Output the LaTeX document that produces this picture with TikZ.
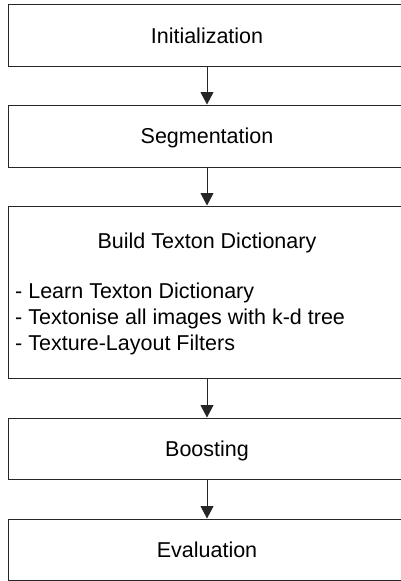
\documentclass[tikz,border=0pt]{standalone}
\usepackage{fontspec}
\setmainfont{Liberation Sans}
\usetikzlibrary{arrows.meta}
\begin{document}
\begin{tikzpicture}[x=1pt,y=-1pt,
  every node/.style={font=\fontsize{21.5}{26}\selectfont, text=black},
  stage/.style={draw=black!85, line width=1pt, rectangle, inner sep=0pt,
    minimum width=397pt, text height=15.5pt, text depth=0pt},
  flow/.style={draw=black!85, line width=1pt,
    -{Triangle[length=12.5pt,width=13pt]}}
]
\useasboundingbox (0,0) rectangle (401,581);
\clip (0,0) rectangle (401,581);

% stages of the pipeline
\node[stage, minimum height=61.5pt] (init) at (207,35.25) {Initialization};
\node[stage, minimum height=62pt] (seg) at (207,136) {Segmentation};
\node[stage, minimum height=172pt] (texton) at (207,292) {};
\node[stage, minimum height=61pt] (boost) at (207,448.5) {Boosting};
\node[stage, minimum height=61pt] (eval) at (207,549.5) {Evaluation};

% contents of the texton stage
\node[anchor=base, inner sep=0pt] (tt) at (207,248.7) {Build Texton Dictionary};
\node[anchor=base west, inner sep=0pt] (ta) at (15,298) {- Learn Texton Dictionary};
\node[anchor=base west, inner sep=0pt] (tb) at (15,324) {- Textonise all images with k-d tree};
\node[anchor=base west, inner sep=0pt] (tc) at (15,350) {- Texture-Layout Filters};

% connectors
\draw[flow] (init.south) -- (seg.north);
\draw[flow] (seg.south) -- (texton.north);
\draw[flow] (texton.south) -- (boost.north);
\draw[flow] (boost.south) -- (eval.north);
\end{tikzpicture}
\end{document}
